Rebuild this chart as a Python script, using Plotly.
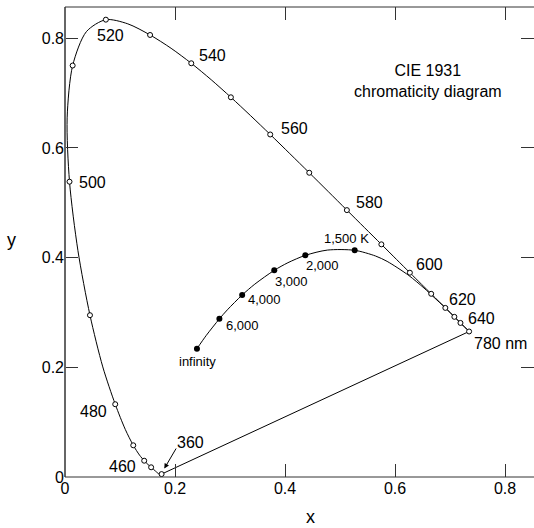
import plotly.graph_objects as go

# ---- Spectral locus (CIE 1931), wavelength in nm ----
wl = [360, 370, 380, 390, 400, 410, 420, 430, 440, 445, 450, 455, 460, 465, 470, 475,
      480, 485, 490, 495, 500, 505, 510, 515, 520, 525, 530, 535, 540, 545, 550, 555,
      560, 565, 570, 575, 580, 585, 590, 595, 600, 605, 610, 615, 620, 625, 630, 635,
      640, 645, 650, 660, 670, 680, 700, 780]
locus_x = [0.1756, 0.1752, 0.1741, 0.1738, 0.1733, 0.1726, 0.1714, 0.1689, 0.1644, 0.1611,
           0.1566, 0.1510, 0.1440, 0.1355, 0.1241, 0.1096, 0.0913, 0.0687, 0.0454, 0.0235,
           0.0082, 0.0039, 0.0139, 0.0389, 0.0743, 0.1142, 0.1547, 0.1929, 0.2296, 0.2658,
           0.3016, 0.3373, 0.3731, 0.4087, 0.4441, 0.4788, 0.5125, 0.5448, 0.5752, 0.6029,
           0.6270, 0.6482, 0.6658, 0.6801, 0.6915, 0.7006, 0.7079, 0.7140, 0.7190, 0.7230,
           0.7260, 0.7300, 0.7320, 0.7334, 0.7347, 0.7347]
locus_y = [0.0053, 0.0052, 0.0050, 0.0049, 0.0048, 0.0048, 0.0051, 0.0069, 0.0109, 0.0138,
           0.0177, 0.0227, 0.0297, 0.0399, 0.0578, 0.0868, 0.1327, 0.2007, 0.2950, 0.4127,
           0.5384, 0.6548, 0.7502, 0.8120, 0.8338, 0.8262, 0.8059, 0.7816, 0.7543, 0.7243,
           0.6923, 0.6589, 0.6245, 0.5896, 0.5547, 0.5202, 0.4866, 0.4544, 0.4242, 0.3965,
           0.3725, 0.3514, 0.3340, 0.3197, 0.3083, 0.2993, 0.2920, 0.2859, 0.2809, 0.2770,
           0.2740, 0.2700, 0.2680, 0.2666, 0.2653, 0.2653]
marker_wl = [360, 450, 460, 470, 480, 490, 500, 510, 520, 530, 540, 550, 560, 570, 580,
             590, 600, 610, 620, 630, 640, 780]
purple_wl = [360, 780]

wl_labels = ["520", "540", "500", "560", "580", "600", "620", "640", "780 nm",
             "480", "460", "360"]

# ---- Planckian locus ----
planck_x = [0.2399, 0.2565, 0.2807, 0.2952, 0.3221, 0.3451, 0.3805, 0.4053, 0.4369,
            0.4770, 0.5267, 0.5646, 0.5857, 0.6251, 0.6528, 0.6720, 0.6900, 0.7100, 0.7347]
planck_y = [0.2340, 0.2577, 0.2883, 0.3048, 0.3318, 0.3516, 0.3768, 0.3907, 0.4041,
            0.4137, 0.4133, 0.4029, 0.3931, 0.3674, 0.3444, 0.3265, 0.3099, 0.2899, 0.2653]
dot_x = [0.2399, 0.2807, 0.3221, 0.3805, 0.4369, 0.5267]
dot_y = [0.2340, 0.2883, 0.3318, 0.3768, 0.4041, 0.4133]
dot_labels = ["infinity", "6,000", "4,000", "3,000", "2,000", "1,500 K"]

x_ticks = [0, 0.2, 0.4, 0.6, 0.8]
x_tick_text = ["0", "0.2", "0.4", "0.6", "0.8"]
y_ticks = [0, 0.2, 0.4, 0.6, 0.8]
y_tick_text = ["0", "0.2", "0.4", "0.6", "0.8"]

FONT = "Liberation Sans, Arial, Helvetica, sans-serif"

idx = {w: i for i, w in enumerate(wl)}
mx = [locus_x[idx[w]] for w in marker_wl]
my = [locus_y[idx[w]] for w in marker_wl]
px_ = [locus_x[idx[w]] for w in purple_wl]
py_ = [locus_y[idx[w]] for w in purple_wl]

fig = go.Figure()
fig.add_trace(go.Scatter(x=locus_x, y=locus_y, mode="lines",
                         line=dict(color="black", width=1, shape="spline", smoothing=0.8),
                         hoverinfo="skip"))
fig.add_trace(go.Scatter(x=px_, y=py_, mode="lines",
                         line=dict(color="black", width=1), hoverinfo="skip"))
fig.add_trace(go.Scatter(x=planck_x, y=planck_y, mode="lines",
                         line=dict(color="black", width=1, shape="spline", smoothing=0.8),
                         hoverinfo="skip"))
fig.add_trace(go.Scatter(x=mx, y=my, mode="markers",
                         marker=dict(symbol="circle", size=5, color="white",
                                     line=dict(color="black", width=1)),
                         hoverinfo="skip"))
fig.add_trace(go.Scatter(x=dot_x, y=dot_y, mode="markers",
                         marker=dict(symbol="circle", size=6, color="black"),
                         hoverinfo="skip"))

# label positions (data coords, centre of text)
wl_label_pos = [(0.0836, 0.805), (0.269, 0.7676), (0.050, 0.537), (0.417, 0.6345),
                (0.5545, 0.5005), (0.6618, 0.3883), (0.7218, 0.3245), (0.7564, 0.289),
                (0.7395, 0.2425), (0.0522, 0.1203), (0.1049, 0.0191), (0.2273, 0.0638)]
annotations = []
for t, (x, y) in zip(wl_labels, wl_label_pos):
    xa = "left" if t == "780 nm" else "center"
    annotations.append(dict(x=x, y=y, xref="x", yref="y", text=t, showarrow=False,
                            xanchor=xa, yanchor="middle",
                            font=dict(family=FONT, size=16, color="black")))

dot_label_pos = [(0.2400, 0.2106), (0.3227, 0.2762), (0.3636, 0.3236), (0.4109, 0.3564),
                 (0.4685, 0.3856), (0.5122, 0.4348)]
for t, (x, y) in zip(dot_labels, dot_label_pos):
    annotations.append(dict(x=x, y=y, xref="x", yref="y", text=t, showarrow=False,
                            xanchor="center", yanchor="middle",
                            font=dict(family=FONT, size=13, color="black")))

# arrow to 360
annotations.append(dict(x=0.1805, y=0.0153, xref="x", yref="y", text="",
                        showarrow=True, ax=12.7, ay=-21.6, arrowhead=2, arrowsize=1,
                        arrowwidth=1, arrowcolor="black", standoff=0))

annotations.append(dict(x=0.66, y=0.7213, xref="x", yref="y",
                        text="CIE 1931<br>chromaticity diagram", showarrow=False,
                        xanchor="center", yanchor="middle", align="center",
                        font=dict(family=FONT, size=16, color="black")))
annotations.append(dict(x=0.5245, y=-0.085, xref="paper", yref="paper", text="x",
                        showarrow=False, xanchor="center", yanchor="middle",
                        font=dict(family=FONT, size=18, color="black")))
annotations.append(dict(x=-0.115, y=0.504, xref="paper", yref="paper", text="y",
                        showarrow=False, xanchor="center", yanchor="middle",
                        font=dict(family=FONT, size=18, color="black")))

shapes = [
    dict(type="line", xref="paper", yref="paper", x0=0, x1=0, y0=0, y1=1,
         line=dict(color="#666666", width=2)),
    dict(type="line", xref="paper", yref="paper", x0=0, x1=1, y0=1, y1=1,
         line=dict(color="#333333", width=1)),
    dict(type="line", xref="paper", yref="paper", x0=0, x1=1, y0=0, y1=0,
         line=dict(color="#333333", width=1)),
]

fig.update_layout(
    width=534, height=528,
    margin=dict(l=65, r=0, t=7, b=51),
    paper_bgcolor="white", plot_bgcolor="white",
    showlegend=False,
    font=dict(family=FONT, size=16, color="black"),
    annotations=annotations,
    shapes=shapes,
    xaxis=dict(range=[0, 0.8527], tickvals=x_ticks, ticktext=x_tick_text,
               ticks="inside", ticklen=13, tickwidth=1, tickcolor="#333333",
               mirror="ticks", showline=False, showgrid=False, zeroline=False,
               tickfont=dict(family=FONT, size=16, color="black")),
    yaxis=dict(range=[0, 0.8569], tickvals=y_ticks, ticktext=y_tick_text,
               ticks="inside", ticklen=13, tickwidth=1, tickcolor="#333333",
               mirror="ticks", showline=False, showgrid=False, zeroline=False,
               tickfont=dict(family=FONT, size=16, color="black")),
)

fig.write_html("out.html")
